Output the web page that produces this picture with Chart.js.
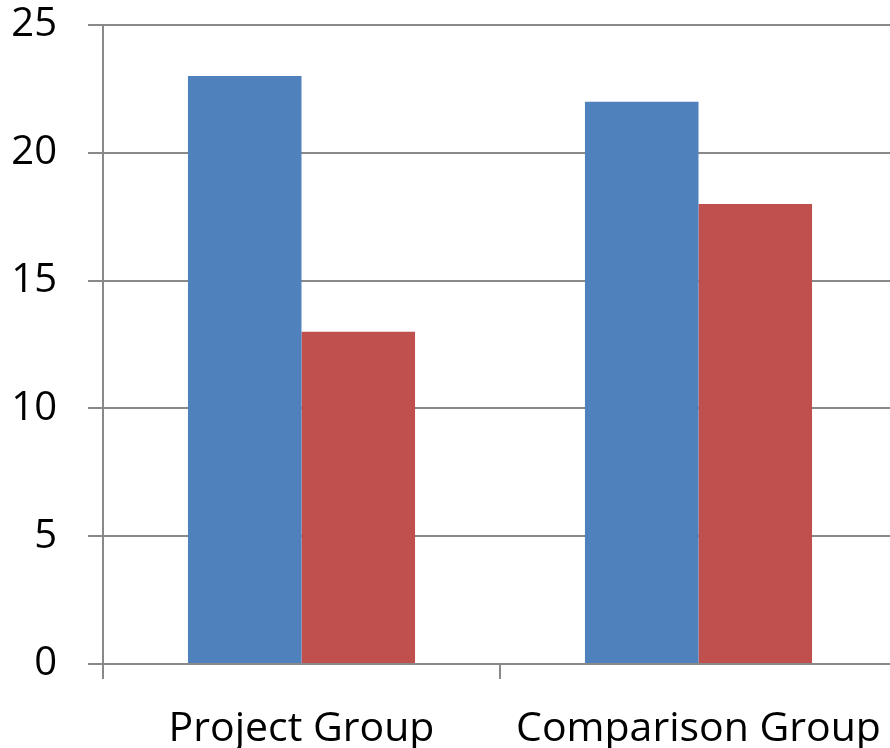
<!DOCTYPE html>
<html>
<head>
<meta charset="utf-8">
<script src="https://cdn.jsdelivr.net/npm/chart.js@4/dist/chart.umd.min.js"></script>
<style>
  html, body { margin: 0; padding: 0; background: #fff; overflow: hidden; }
  #wrap { position: relative; width: 897px; height: 748px; }
</style>
</head>
<body>
<div id="wrap"><canvas id="c"></canvas></div>
<script>
const categories = ['Project Group', 'Comparison Group'];
const seriesA = [23, 22];
const seriesB = [13, 18];
const yTicks = [0, 5, 10, 15, 20, 25];

const axisGray = '#898989';
const fontFamily = '"Open Sans", "Liberation Sans", sans-serif';

new Chart(document.getElementById('c'), {
  type: 'bar',
  data: {
    labels: categories,
    datasets: [
      { label: 'A', data: seriesA, backgroundColor: '#4F81BD', borderWidth: 0 },
      { label: 'B', data: seriesB, backgroundColor: '#C0504D', borderWidth: 0 }
    ]
  },
  options: {
    responsive: true,
    maintainAspectRatio: false,
    animation: false,
    events: [],
    layout: { padding: { top: 25, right: 0, bottom: 0, left: 0 } },
    datasets: { bar: { categoryPercentage: 0.572, barPercentage: 1.0 } },
    plugins: { legend: { display: false }, tooltip: { enabled: false } },
    scales: {
      x: {
        grid: {
          offset: true,
          drawOnChartArea: false,
          drawTicks: true,
          tickLength: 15,
          color: axisGray,
          lineWidth: 2
        },
        border: { display: true, color: axisGray, width: 2 },
        ticks: {
          color: '#000',
          padding: 26,
          font: { family: fontFamily, size: 41 },
          maxRotation: 0,
          autoSkip: false
        },
        afterFit(scale) {
          scale.height = 84;
          scale.paddingLeft = 0;
          scale.paddingRight = 0;
        }
      },
      y: {
        min: 0,
        max: 25,
        afterBuildTicks(scale) { scale.ticks = yTicks.map(v => ({ value: v })); },
        grid: {
          color: axisGray,
          lineWidth: 2,
          drawTicks: true,
          tickLength: 15
        },
        border: { display: true, color: axisGray, width: 2 },
        ticks: {
          color: '#000',
          padding: 31,
          font: { family: fontFamily, size: 40 }
        },
        afterFit(scale) {
          scale.width = 103;
          scale.paddingTop = 0;
          scale.paddingBottom = 0;
        }
      }
    }
  }
});
</script>
</body>
</html>
